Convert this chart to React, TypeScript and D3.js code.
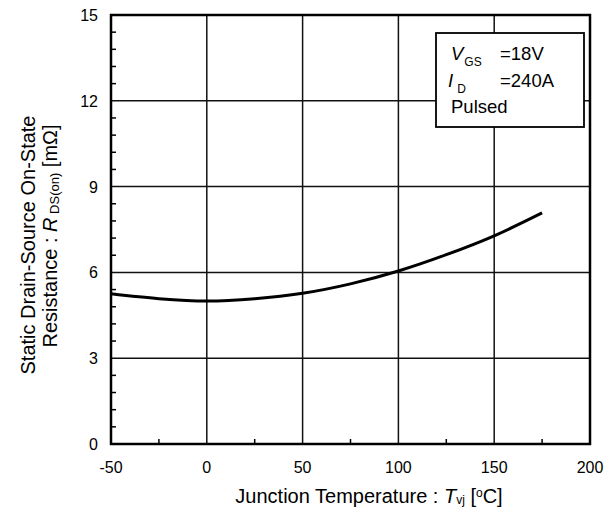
import React, { useRef, useEffect } from "react";
import * as d3 from "d3";

// temperature (degC) and on-resistance (mOhm)
const temps = [-50, -25, 0, 25, 50, 75, 100, 125, 150, 175];
const rdsOn = [5.25, 5.08, 5.0, 5.08, 5.27, 5.6, 6.05, 6.62, 7.28, 8.08];
const xTicks = [-50, 0, 50, 100, 150, 200];
const yTicks = [0, 3, 6, 9, 12, 15];

const W = 614;
const H = 508;

const App = () => {
  const svgRef = useRef<SVGSVGElement>(null);

  useEffect(() => {
    const svg = d3.select(svgRef.current);
    svg.selectAll("*").remove();

    const margin = { top: 15, right: 24, bottom: 64, left: 111 };
    const x = d3.scaleLinear().domain([-50, 200]).range([margin.left, W - margin.right]);
    const y = d3.scaleLinear().domain([0, 15]).range([H - margin.bottom, margin.top]);
    const font = "Arial, 'Liberation Sans', sans-serif";

    // grid lines
    const grid = svg.append("g").attr("stroke", "#111").attr("stroke-width", 1.5);
    grid.selectAll("line.vx")
      .data(xTicks.slice(1, -1))
      .join("line")
      .attr("x1", (d) => x(d)).attr("x2", (d) => x(d))
      .attr("y1", y(0)).attr("y2", y(15));
    grid.selectAll("line.hy")
      .data(yTicks.slice(1, -1))
      .join("line")
      .attr("class", "hy")
      .attr("x1", x(-50)).attr("x2", x(200))
      .attr("y1", (d) => y(d)).attr("y2", (d) => y(d));

    // minor ticks (inward)
    const yMinor = d3.range(0, 15.001, 0.6).filter((v) => Math.abs(v / 3 - Math.round(v / 3)) > 1e-6);
    svg.append("g").selectAll("line")
      .data(yMinor)
      .join("line")
      .attr("x1", x(-50)).attr("x2", x(-50) + 5)
      .attr("y1", (d) => y(d)).attr("y2", (d) => y(d))
      .attr("stroke", "#000").attr("stroke-width", 1.5);
    const xMinor = [-25, 25, 75, 125, 175];
    svg.append("g").selectAll("line")
      .data(xMinor)
      .join("line")
      .attr("x1", (d) => x(d)).attr("x2", (d) => x(d))
      .attr("y1", y(0)).attr("y2", y(0) - 5)
      .attr("stroke", "#000").attr("stroke-width", 1.5);

    // frame
    svg.append("rect")
      .attr("x", x(-50)).attr("y", y(15))
      .attr("width", x(200) - x(-50)).attr("height", y(0) - y(15))
      .attr("fill", "none").attr("stroke", "#000").attr("stroke-width", 2.5);

    // tick labels
    svg.append("g").selectAll("text")
      .data(xTicks)
      .join("text")
      .attr("x", (d) => x(d)).attr("y", y(0) + 29)
      .attr("text-anchor", "middle")
      .attr("font-family", font).attr("font-size", 16)
      .text((d) => d);
    svg.append("g").selectAll("text")
      .data(yTicks)
      .join("text")
      .attr("x", x(-50) - 13).attr("y", (d) => y(d) + 6)
      .attr("text-anchor", "end")
      .attr("font-family", font).attr("font-size", 16)
      .text((d) => d);

    // curve
    const line = d3.line<number>()
      .x((d, i) => x(temps[i]))
      .y((d) => y(d))
      .curve(d3.curveMonotoneX);
    svg.append("path")
      .attr("d", line(rdsOn))
      .attr("fill", "none").attr("stroke", "#000").attr("stroke-width", 3);

    // condition box
    const box = svg.append("g").attr("font-family", font).attr("font-size", 18.5);
    box.append("rect")
      .attr("x", 436).attr("y", 33).attr("width", 148).attr("height", 94)
      .attr("fill", "#fff").attr("stroke", "#000").attr("stroke-width", 1.8);
    const t1 = box.append("text").attr("x", 451).attr("y", 60);
    t1.append("tspan").attr("font-style", "italic").text("V");
    t1.append("tspan").attr("font-size", 12).attr("dy", 6).attr("dx", 1).text("GS");
    box.append("text").attr("x", 500).attr("y", 60).text("=18V");
    const t2 = box.append("text").attr("x", 448).attr("y", 86.5);
    t2.append("tspan").attr("font-style", "italic").text("I");
    t2.append("tspan").attr("font-size", 12).attr("dy", 6).attr("dx", 4).text("D");
    box.append("text").attr("x", 500).attr("y", 86.5).text("=240A");
    box.append("text").attr("x", 451).attr("y", 113).text("Pulsed");

    // x axis title
    const xt = svg.append("text")
      .attr("x", 369).attr("y", 503)
      .attr("text-anchor", "middle")
      .attr("font-family", font).attr("font-size", 20);
    xt.append("tspan").text("Junction Temperature : ");
    xt.append("tspan").attr("font-style", "italic").text("T");
    xt.append("tspan").attr("font-size", 12).attr("dy", 1).text("vj");
    xt.append("tspan").attr("dy", -1).text(" [");
    xt.append("tspan").attr("font-size", 12).attr("dy", -6).text("o");
    xt.append("tspan").attr("dy", 6).text("C]");

    // y axis title
    const yl = svg.append("g")
      .attr("transform", "rotate(-90)")
      .attr("font-family", font).attr("font-size", 20).attr("text-anchor", "middle");
    yl.append("text").attr("x", -245).attr("y", 35).text("Static Drain-Source On-State");
    const y2 = yl.append("text").attr("x", -236).attr("y", 57);
    y2.append("tspan").text("Resistance : ");
    y2.append("tspan").attr("font-style", "italic").text("R");
    y2.append("tspan").attr("font-size", 13).attr("dy", 2).text(" DS(on)");
    y2.append("tspan").attr("dy", -2).text(" [mΩ]");
  }, []);

  return (
    <svg
      ref={svgRef}
      width={W}
      height={H}
      style={{ position: "absolute", left: 0, top: 0, background: "#fff" }}
    />
  );
};

export default App;
